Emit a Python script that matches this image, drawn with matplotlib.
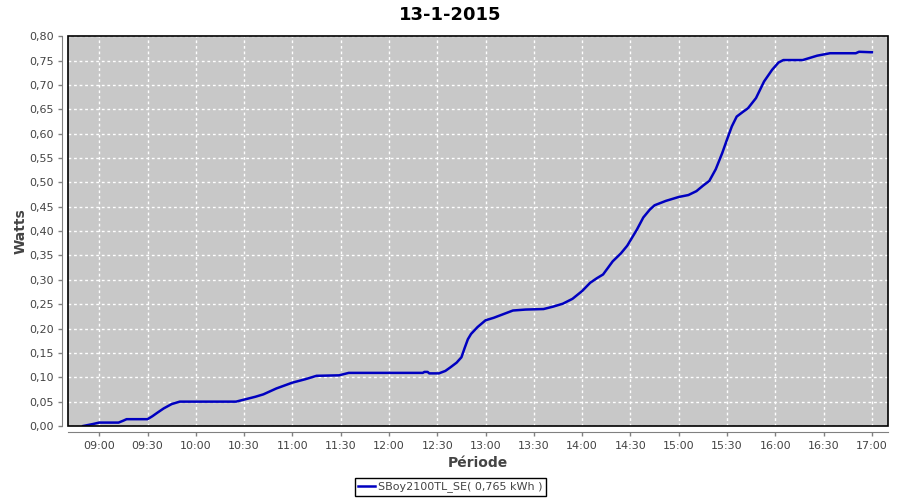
import matplotlib
matplotlib.use("Agg")
import matplotlib.pyplot as plt
import matplotlib.dates as mdates
from matplotlib.patches import Rectangle
import pandas as pd

# readings of 13-1-2015
times = ["08:50", "08:53", "08:56", "09:00", "09:12", "09:15", "09:17", "09:30",
         "09:33", "09:36", "09:40", "09:45", "09:50", "10:25", "10:31", "10:37",
         "10:42", "10:50", "11:00", "11:08", "11:15", "11:29", "11:35", "12:21",
         "12:22", "12:24", "12:25", "12:31", "12:35", "12:38", "12:42", "12:45",
         "12:47", "12:49", "12:51", "12:55", "13:00", "13:05", "13:09", "13:17",
         "13:25", "13:36", "13:42", "13:48", "13:54", "14:00", "14:05", "14:09",
         "14:13", "14:19", "14:24", "14:28", "14:34", "14:38", "14:42", "14:45",
         "14:52", "15:00", "15:06", "15:11", "15:15", "15:19", "15:23", "15:27",
         "15:30", "15:33", "15:36", "15:40", "15:43", "15:48", "15:53", "15:58",
         "16:02", "16:05", "16:17", "16:21", "16:26", "16:34", "16:50", "16:52",
         "17:00"]
watts = [0.000, 0.002, 0.004, 0.007, 0.007, 0.011, 0.014, 0.014,
         0.020, 0.027, 0.036, 0.045, 0.050, 0.050, 0.055, 0.060,
         0.065, 0.077, 0.089, 0.096, 0.103, 0.104, 0.109, 0.109,
         0.111, 0.111, 0.108, 0.108, 0.113, 0.120, 0.130, 0.141,
         0.160, 0.178, 0.189, 0.203, 0.217, 0.222, 0.227, 0.237,
         0.239, 0.240, 0.245, 0.251, 0.261, 0.277, 0.294, 0.303,
         0.311, 0.338, 0.354, 0.370, 0.403, 0.428, 0.444, 0.453,
         0.462, 0.470, 0.474, 0.482, 0.493, 0.503, 0.527, 0.560,
         0.588, 0.615, 0.635, 0.645, 0.652, 0.673, 0.707, 0.731,
         0.746, 0.751, 0.751, 0.755, 0.760, 0.765, 0.765, 0.768,
         0.767]
series_name = "SBoy2100TL_SE( 0,765 kWh )"

t = pd.to_datetime(["2015-01-13 " + s for s in times])

fig = plt.figure(figsize=(9, 5), dpi=100)
ax = fig.add_axes([68 / 900, 1 - 426 / 500, 820 / 900, 390.3 / 500])
ax.set_facecolor("#c8c8c8")

ax.plot(t, watts, color="#0000c0", lw=1.8, label=series_name)

ax.set_xlim(pd.Timestamp("2015-01-13 08:40:36"), pd.Timestamp("2015-01-13 17:10:00"))
ax.set_ylim(0, 0.801)
ax.xaxis.set_major_locator(mdates.MinuteLocator(byminute=[0, 30]))
ax.xaxis.set_major_formatter(mdates.DateFormatter("%H:%M"))
ax.set_yticks([i * 0.05 for i in range(17)])
ax.yaxis.set_major_formatter(plt.FuncFormatter(lambda v, p: ("%.2f" % v).replace(".", ",")))

ax.grid(True, color="white", lw=1, ls=(0, (2, 2)))
ax.set_axisbelow(True)

for side in ["top", "right"]:
    ax.spines[side].set_visible(False)
for side in ["left", "bottom"]:
    ax.spines[side].set_position(("outward", 4))
    ax.spines[side].set_color("#808080")
ax.add_patch(Rectangle((0, 0), 1, 1, transform=ax.transAxes, fill=False,
                       edgecolor="black", lw=1.2, clip_on=False, zorder=5))

ax.tick_params(colors="#808080", labelcolor="#444444", labelsize=8, length=3, width=1)

ax.set_ylabel("Watts", fontsize=10, fontweight="bold", color="#444444", labelpad=1)
ax.set_xlabel("Période", fontsize=10, fontweight="bold", color="#444444", labelpad=4)
fig.text(0.5, 0.971, "13-1-2015", ha="center", va="center", fontsize=13,
         fontweight="bold", family=["Liberation Sans Narrow", "DejaVu Sans"])

leg = fig.legend(loc="center", bbox_to_anchor=(0.5006, 0.026), fontsize=8,
                 fancybox=False, edgecolor="black", framealpha=1,
                 handlelength=1.5, handletextpad=0.3, borderpad=0.3)
leg.get_frame().set_linewidth(1)
for txt in leg.get_texts():
    txt.set_color("#444444")

fig.savefig("out.png", dpi=100)
